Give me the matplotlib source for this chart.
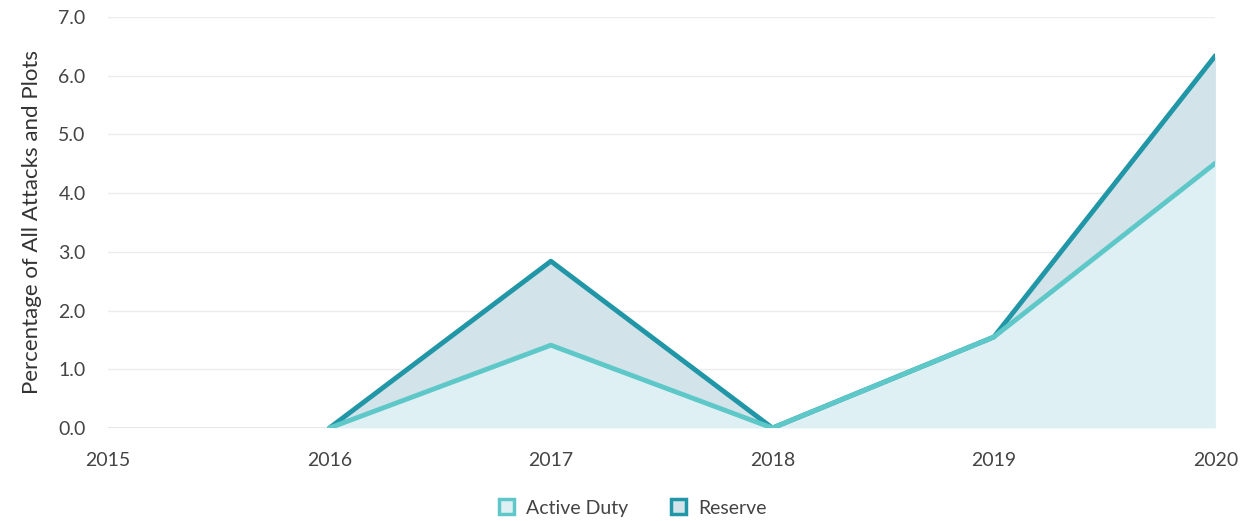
import numpy as np
import matplotlib.pyplot as plt
from matplotlib.patches import Patch

plt.rcParams['font.family'] = ['Lato', 'DejaVu Sans']

# ---- data ----
years = [2015, 2016, 2017, 2018, 2019, 2020]
series_years = [2016, 2017, 2018, 2019, 2020]
active_duty = [0.0, 1.41, 0.0, 1.55, 4.51]
reserve = [0.0, 1.43, 0.0, 0.0, 1.83]   # stacked on top of active duty
yticks = [0, 1, 2, 3, 4, 5, 6, 7]

active_line = '#5ec8c9'
active_fill = '#dff0f4'
reserve_line = '#2196a6'
reserve_fill = '#d2e3ea'
text_col = '#444444'

fig = plt.figure(figsize=(12.45, 5.21), dpi=100)
ax = fig.add_axes([0.0867, 0.1785, 0.8895, 0.789])

x = np.array(series_years)
a = np.array(active_duty)
top = a + np.array(reserve)

ax.fill_between(x, 0, a, color=active_fill, lw=0, zorder=1)
ax.fill_between(x, a, top, color=reserve_fill, lw=0, zorder=1)
# reserve drawn first so the active duty line sits on top where they overlap
ax.plot(x, top, color=reserve_line, lw=3.5, solid_capstyle='round', solid_joinstyle='round', zorder=3)
ax.plot(x, a, color=active_line, lw=3.5, solid_capstyle='round', solid_joinstyle='round', zorder=4)

ax.set_xlim(years[0], years[-1])
ax.set_ylim(0, 7)
ax.set_xticks(years)
ax.set_xticklabels([str(y) for y in years])
ax.set_yticks(yticks)
ax.set_yticklabels([f'{v:.1f}' for v in yticks])
ax.grid(axis='y', color='#ececec', lw=1, zorder=0)
ax.set_axisbelow(True)
for s in ax.spines.values():
    s.set_visible(False)
ax.axhline(0, color='#e0e0e0', lw=1.2, zorder=0)
ax.tick_params(axis='both', length=0, labelsize=14, labelcolor=text_col)
ax.tick_params(axis='x', pad=17)
ax.tick_params(axis='y', pad=16)
ax.set_ylabel('Percentage of All Attacks and Plots', fontsize=16, color='#333333', labelpad=12)

handles = [Patch(facecolor=active_fill, edgecolor=active_line, lw=2.5, label='Active Duty'),
           Patch(facecolor=reserve_fill, edgecolor=reserve_line, lw=2.5, label='Reserve')]
fig.legend(handles=handles, loc='center', bbox_to_anchor=(0.508, 0.025), ncol=2, frameon=False,
           fontsize=14, handlelength=0.8, handleheight=0.8, handletextpad=0.6, columnspacing=2.2,
           labelcolor=text_col)

fig.savefig('out.png', dpi=100, facecolor='white')
